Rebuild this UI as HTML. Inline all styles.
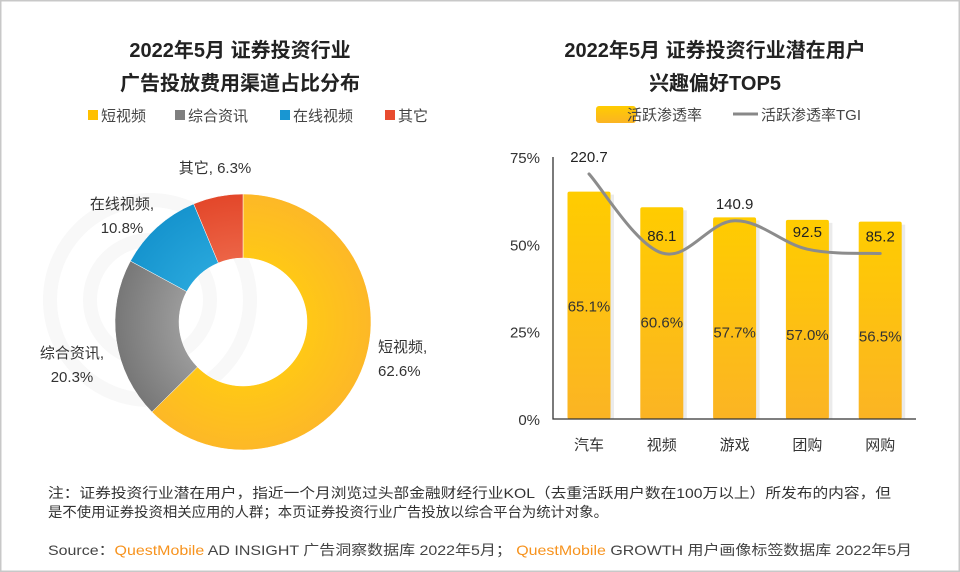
<!DOCTYPE html>
<html><head><meta charset="utf-8"><style>
html,body{margin:0;padding:0;background:#fff}
svg{display:block;font-family:"Liberation Sans","Noto Sans CJK SC",sans-serif}
</style></head><body>
<svg width="960" height="572" viewBox="0 0 960 572">
<defs>
<linearGradient id="barg" x1="0" y1="0" x2="0" y2="1"><stop offset="0" stop-color="#ffcc00"/><stop offset="1" stop-color="#fbb424"/></linearGradient>
<radialGradient id="yel" cx="243" cy="322" r="128" gradientUnits="userSpaceOnUse"><stop offset="0.5" stop-color="#ffc816"/><stop offset="1" stop-color="#fdb827"/></radialGradient>
<radialGradient id="gry" cx="243" cy="322" r="128" gradientUnits="userSpaceOnUse"><stop offset="0.5" stop-color="#9a9a9a"/><stop offset="1" stop-color="#777"/></radialGradient>
<radialGradient id="blu" cx="243" cy="322" r="128" gradientUnits="userSpaceOnUse"><stop offset="0.5" stop-color="#27a6db"/><stop offset="1" stop-color="#1694ce"/></radialGradient>
<radialGradient id="red" cx="243" cy="322" r="128" gradientUnits="userSpaceOnUse"><stop offset="0.5" stop-color="#ec6446"/><stop offset="1" stop-color="#e3472a"/></radialGradient>
</defs>
<rect x="0.75" y="0.75" width="958.5" height="570.5" fill="#fff" stroke="#c8c8c8" stroke-width="1.5"/>
<g fill="none" stroke="#f8f8f8" stroke-width="14">
<circle cx="150" cy="300" r="100"/><circle cx="150" cy="300" r="60"/>
</g>
<text x="240" y="57" text-anchor="middle" font-size="20" font-weight="bold" fill="#222">2022年5月 证券投资行业</text>
<text x="240" y="90" text-anchor="middle" font-size="20" font-weight="bold" fill="#222">广告投放费用渠道占比分布</text>
<text x="715" y="57" text-anchor="middle" font-size="20" font-weight="bold" fill="#222">2022年5月 证券投资行业潜在用户</text>
<text x="715" y="90" text-anchor="middle" font-size="20" font-weight="bold" fill="#222">兴趣偏好TOP5</text>
<g id="pie"></g>
<g id="bar"></g>
<text x="48" y="498" font-size="14" fill="#333" textLength="843" lengthAdjust="spacingAndGlyphs">注：证券投资行业潜在用户，指近一个月浏览过头部金融财经行业KOL（去重活跃用户数在100万以上）所发布的内容，但</text>
<text x="48" y="517" font-size="14" fill="#333" textLength="560" lengthAdjust="spacingAndGlyphs">是不使用证券投资相关应用的人群；本页证券投资行业广告投放以综合平台为统计对象。</text>
<text x="48" y="555" font-size="14" fill="#444" textLength="864" lengthAdjust="spacingAndGlyphs">Source：<tspan fill="#f7931e">QuestMobile</tspan> AD INSIGHT 广告洞察数据库 2022年5月； <tspan fill="#f7931e">QuestMobile</tspan> GROWTH 用户画像标签数据库 2022年5月</text>
</svg>
<script>
const NS='http://www.w3.org/2000/svg';
const pieCats=['短视频','综合资讯','在线视频','其它'];
const pieVals=[62.6,20.3,10.8,6.3];
const barCats=['汽车','视频','游戏','团购','网购'];
const barVals=[65.1,60.6,57.7,57.0,56.5];
const tgiVals=[220.7,86.1,140.9,92.5,85.2];
const yTicks=[0,25,50,75];
function mk(tag,attrs,parent,txt){const e=document.createElementNS(NS,tag);for(const k in attrs)e.setAttribute(k,attrs[k]);if(txt!==undefined)e.textContent=txt;parent.appendChild(e);return e;}
const pie=document.getElementById('pie');
const fills=['url(#yel)','url(#gry)','url(#blu)','url(#red)'];
const legC=['#ffc000','#7f7f7f','#1996d2','#e84b2f'];
const legX=[88,175,280,385];
pieCats.forEach((c,i)=>{
 const r=mk('rect',{x:legX[i],y:110,width:10,height:10,fill:legC[i]},pie);
 
 
 const t=mk('text',{x:legX[i]+13,y:121,'font-size':15,fill:'#444'},pie,c);
 
 
});
const cx=243,cy=322,R=128,r0=64;
const tot=pieVals.reduce((a,b)=>a+b,0);
let a0=0;
pieVals.forEach((v,i)=>{
 const a1=a0+v/tot*2*Math.PI;
 const p=(a,rr)=>[cx+rr*Math.sin(a),cy-rr*Math.cos(a)];
 const [x1,y1]=p(a0,R),[x2,y2]=p(a1,R),[x3,y3]=p(a1,r0),[x4,y4]=p(a0,r0);
 const lg=(a1-a0)>Math.PI?1:0;
 const s=mk('path',{d:`M${x1},${y1}A${R},${R} 0 ${lg} 1 ${x2},${y2}L${x3},${y3}A${r0},${r0} 0 ${lg} 0 ${x4},${y4}Z`,fill:fills[i],stroke:'#fff','stroke-width':0.5},pie);
 
 
 a0=a1;
});
[[0,378,352,'start'],[1,72,358,'middle'],[2,122,209,'middle']].forEach(([i,x,y,an])=>{
 const t=mk('text',{x:x,y:y,'font-size':15,fill:'#333','text-anchor':an},pie);
 
 
 mk('tspan',{x:x},t,pieCats[i]+',');
 mk('tspan',{x:x,dy:24},t,pieVals[i].toFixed(1)+'%');
});
const t3=mk('text',{x:215,y:173,'font-size':15,fill:'#333','text-anchor':'middle'},pie,pieCats[3]+', '+pieVals[3].toFixed(1)+'%');


const bar=document.getElementById('bar');
const x0=553,x1=916,yB=419,yT=157,yMax=75;
const yS=v=>yB-(yB-yT)*v/yMax;
const xS=i=>589+i*72.8;
const tS=v=>303.5-v*0.587;
const lg1=mk('rect',{x:596,y:106,width:40,height:17,rx:3,fill:'url(#barg)'},bar);


const lt1=mk('text',{x:627,y:120,'font-size':15,fill:'#444'},bar,'活跃渗透率');


const ll=mk('line',{x1:733,y1:114,x2:758,y2:114,stroke:'#888','stroke-width':3},bar);


const lt2=mk('text',{x:761,y:120,'font-size':15,fill:'#444'},bar,'活跃渗透率TGI');


yTicks.forEach(v=>{
 const t=mk('text',{x:540,y:yS(v)+6,'font-size':15,fill:'#333','text-anchor':'end'},bar,v+'%');
 
 
});
barVals.forEach((v,i)=>{
 const sh=mk('rect',{x:xS(i)-21+3,y:yS(v)+3,width:43,height:yB-yS(v)-3,fill:'#ddd',opacity:0.6},bar);
 
 
 const b=mk('rect',{x:xS(i)-21.5,y:yS(v),width:43,height:yB-yS(v),rx:2,fill:'url(#barg)'},bar);
 
 
 const t=mk('text',{x:xS(i),y:yS(v)+120,'font-size':15,fill:'#333','text-anchor':'middle'},bar,v.toFixed(1)+'%');
 
 
 const c=mk('text',{x:xS(i),y:450,'font-size':15,fill:'#333','text-anchor':'middle'},bar,barCats[i]);
 
 
});
const ax=mk('path',{d:`M${x0},${yT}V${yB}H${x1}`,fill:'none',stroke:'#333','stroke-width':1.3},bar);


const pts=tgiVals.map((v,i)=>[xS(i),tS(v)]);
let d=`M${pts[0][0]},${pts[0][1]}`;
for(let i=0;i<pts.length-1;i++){
 const p0=pts[i-1]||pts[i],p1=pts[i],p2=pts[i+1],p3=pts[i+2]||p2;
 const k=0.18;
 d+=`C${p1[0]+(p2[0]-p0[0])*k},${p1[1]+(p2[1]-p0[1])*k} ${p2[0]-(p3[0]-p1[0])*k},${p2[1]-(p3[1]-p1[1])*k} ${p2[0]},${p2[1]}`;
}
const ln=mk('path',{d:d,fill:'none',stroke:'#8c8c8c','stroke-width':3,'stroke-linecap':'round'},bar);


tgiVals.forEach((v,i)=>{
 const t=mk('text',{x:xS(i),y:tS(v)-12,'font-size':15,fill:'#222','text-anchor':'middle'},bar,v.toFixed(1));
 
 
});
</script>
</body></html>
